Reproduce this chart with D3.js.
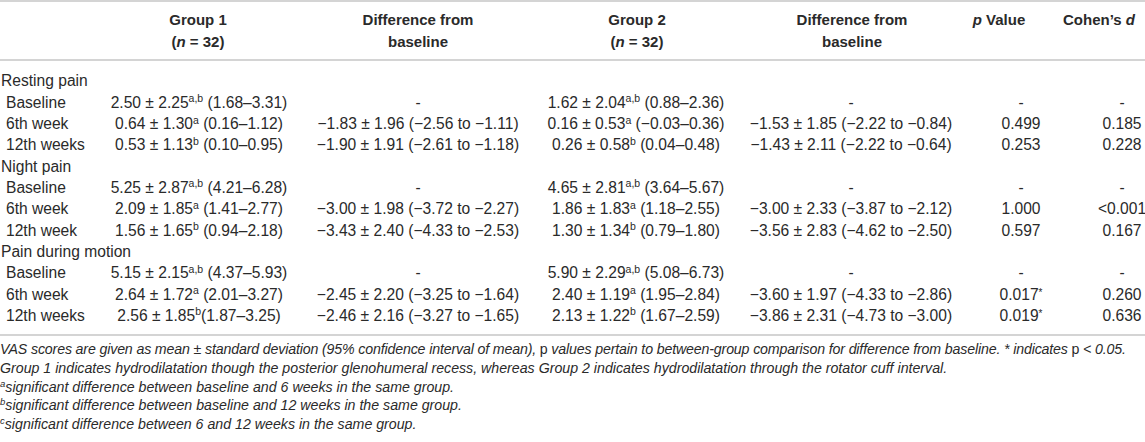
<!DOCTYPE html>
<html>
<head>
<meta charset="utf-8">
<script src="https://cdn.jsdelivr.net/npm/d3@7"></script>
<style>
  html, body { margin: 0; padding: 0; background: #fff; }
  svg text { font-family: "Liberation Sans", Arial, sans-serif; fill: #2a2a2a; }
</style>
</head>
<body>
<div id="chart"></div>
<script>
const outcomes = ["Resting pain", "Night pain", "Pain during motion"];
const timepoints = [
    ["Baseline", "6th week", "12th weeks"],
    ["Baseline", "6th week", "12th week"],
    ["Baseline", "6th week", "12th weeks"]
];

// group 1: mean, sd, superscript, ci
const g1Mean = ["2.50", "0.64", "0.53", "5.25", "2.09", "1.56", "5.15", "2.64", "2.56"];
const g1Sd   = ["2.25", "1.30", "1.13", "2.87", "1.85", "1.65", "2.15", "1.72", "1.85"];
const g1Sup  = ["a,b", "a", "b", "a,b", "a", "b", "a,b", "a", "b"];
const g1Ci   = ["(1.68–3.31)", "(0.16–1.12)", "(0.10–0.95)", "(4.21–6.28)", "(1.41–2.77)", "(0.94–2.18)", "(4.37–5.93)", "(2.01–3.27)", "(1.87–3.25)"];

const diff1 = ["-", "−1.83 ± 1.96 (−2.56 to −1.11)", "−1.90 ± 1.91 (−2.61 to −1.18)",
               "-", "−3.00 ± 1.98 (−3.72 to −2.27)", "−3.43 ± 2.40 (−4.33 to −2.53)",
               "-", "−2.45 ± 2.20 (−3.25 to −1.64)", "−2.46 ± 2.16 (−3.27 to −1.65)"];

const g2Mean = ["1.62", "0.16", "0.26", "4.65", "1.86", "1.30", "5.90", "2.40", "2.13"];
const g2Sd   = ["2.04", "0.53", "0.58", "2.81", "1.83", "1.34", "2.29", "1.19", "1.22"];
const g2Sup  = ["a,b", "a", "b", "a,b", "a", "b", "a,b", "a", "b"];
const g2Ci   = ["(0.88–2.36)", "(−0.03–0.36)", "(0.04–0.48)", "(3.64–5.67)", "(1.18–2.55)", "(0.79–1.80)", "(5.08–6.73)", "(1.95–2.84)", "(1.67–2.59)"];

const diff2 = ["-", "−1.53 ± 1.85 (−2.22 to −0.84)", "−1.43 ± 2.11 (−2.22 to −0.64)",
               "-", "−3.00 ± 2.33 (−3.87 to −2.12)", "−3.56 ± 2.83 (−4.62 to −2.50)",
               "-", "−3.60 ± 1.97 (−4.33 to −2.86)", "−3.86 ± 2.31 (−4.73 to −3.00)"];

const pValues = ["-", "0.499", "0.253", "-", "1.000", "0.597", "-", "0.017*", "0.019*"];
const cohensD = ["-", "0.185", "0.228", "-", "<0.001", "0.167", "-", "0.260", "0.636"];

const headers = [
    { col: "g1", lines: ["Group 1", "(n = 32)"] },
    { col: "d1", lines: ["Difference from", "baseline"] },
    { col: "g2", lines: ["Group 2", "(n = 32)"] },
    { col: "d2", lines: ["Difference from", "baseline"] },
    { col: "p", lines: ["p Value"] },
    { col: "d", lines: ["Cohen’s d"] }
];

const notes = [
    "VAS scores are given as mean ± standard deviation (95% confidence interval of mean), p values pertain to between-group comparison for difference from baseline. * indicates p < 0.05.",
    "Group 1 indicates hydrodilatation though the posterior glenohumeral recess, whereas Group 2 indicates hydrodilatation through the rotator cuff interval.",
    "significant difference between baseline and 6 weeks in the same group.",
    "significant difference between baseline and 12 weeks in the same group.",
    "significant difference between 6 and 12 weeks in the same group."
];
const noteMarks = ["", "", "a", "b", "c"];

const width = 1145, height = 442;

const svg = d3.select('#chart').append('svg')
    .attr('width', width)
    .attr('height', height);

// row layout: one row per outcome title plus one per timepoint
const rows = [];
let k = 0;
outcomes.forEach((o, i) => {
    rows.push({ id: 'h' + i, type: 'group', label: o });
    timepoints[i].forEach(t => {
        rows.push({ id: 'r' + k, type: 'data', label: t, idx: k });
        k++;
    });
});

const y = d3.scalePoint()
    .domain(rows.map(r => r.id))
    .range([81, 315.5]);

// column centers
const xHead = d3.scaleOrdinal()
    .domain(["g1", "d1", "g2", "d2", "p", "d"])
    .range([198, 418, 637, 852, 999, 1099]);
const xCell = d3.scaleOrdinal()
    .domain(["g1", "d1", "g2", "d2", "p", "d"])
    .range([199, 418, 636, 851, 1021, 1122]);

const fs = 15.6;
const off = 5.4; // baseline offset from row center

// rules
const ruleColor = '#d4d4d4';
[1, 60, 335].forEach(ry => {
    svg.append('line')
        .attr('x1', 0).attr('x2', width)
        .attr('y1', ry).attr('y2', ry)
        .attr('stroke', ruleColor)
        .attr('stroke-width', 2);
});

// header
const hy = [20, 42];
headers.forEach(h => {
    h.lines.forEach((line, li) => {
        const t = svg.append('text')
            .attr('x', xHead(h.col))
            .attr('y', hy[li] + off)
            .attr('text-anchor', 'middle')
            .style('font-size', '15px')
            .style('font-weight', 'bold');
        if (line === "(n = 32)") {
            t.append('tspan').text('(');
            t.append('tspan').style('font-style', 'italic').text('n');
            t.append('tspan').text(' = 32)');
        } else if (line === "p Value") {
            t.append('tspan').style('font-style', 'italic').text('p');
            t.append('tspan').text(' Value');
        } else if (line === "Cohen’s d") {
            t.append('tspan').text('Cohen’s ');
            t.append('tspan').style('font-style', 'italic').text('d');
        } else {
            t.text(line);
        }
    });
});

// row labels
svg.append('g')
    .selectAll('text')
    .data(rows)
    .enter().append('text')
    .attr('x', d => d.type === 'group' ? 1 : 6)
    .attr('y', d => y(d.id) + off)
    .style('font-size', fs + 'px')
    .text(d => d.label);

const dataRows = rows.filter(r => r.type === 'data');

function groupCell(sel, mean, sd, sup, ci) {
    sel.each(function(d) {
        const t = d3.select(this);
        const i = d.idx;
        t.append('tspan').text(mean[i] + ' ± ' + sd[i]);
        t.append('tspan').attr('dy', -5.5).style('font-size', '10.5px').text(sup[i]);
        // the last motion row of group 1 has no space before the interval
        const gap = (mean === g1Mean && i === 8) ? '' : ' ';
        t.append('tspan').attr('dy', 5.5).text(gap + ci[i]);
    });
}

svg.append('g')
    .selectAll('text')
    .data(dataRows)
    .enter().append('text')
    .attr('x', xCell('g1'))
    .attr('y', d => y(d.id) + off)
    .attr('text-anchor', 'middle')
    .style('font-size', fs + 'px')
    .call(groupCell, g1Mean, g1Sd, g1Sup, g1Ci);

svg.append('g')
    .selectAll('text')
    .data(dataRows)
    .enter().append('text')
    .attr('x', xCell('g2'))
    .attr('y', d => y(d.id) + off)
    .attr('text-anchor', 'middle')
    .style('font-size', fs + 'px')
    .call(groupCell, g2Mean, g2Sd, g2Sup, g2Ci);

[["d1", diff1], ["d2", diff2], ["d", cohensD]].forEach(([col, arr]) => {
    svg.append('g')
        .selectAll('text')
        .data(dataRows)
        .enter().append('text')
        .attr('x', xCell(col))
        .attr('y', d => y(d.id) + off)
        .attr('text-anchor', 'middle')
        .style('font-size', fs + 'px')
        .text(d => arr[d.idx]);
});

// p values, asterisk drawn small and raised
svg.append('g')
    .selectAll('text')
    .data(dataRows)
    .enter().append('text')
    .attr('x', xCell('p'))
    .attr('y', d => y(d.id) + off)
    .attr('text-anchor', 'middle')
    .style('font-size', fs + 'px')
    .each(function(d) {
        const v = pValues[d.idx];
        const t = d3.select(this);
        if (v.endsWith('*')) {
            t.append('tspan').text(v.slice(0, -1));
            t.append('tspan').attr('dy', -4).style('font-size', '10px').text('*');
        } else {
            t.text(v);
        }
    });

// footnotes
const noteY = d3.scalePoint()
    .domain(d3.range(notes.length))
    .range([349, 424]);

const nfs = 14.2;
notes.forEach((n, i) => {
    const t = svg.append('text')
        .attr('x', 0)
        .attr('y', noteY(i) + 5)
        .style('font-size', nfs + 'px')
        .style('font-style', 'italic');
    if (noteMarks[i]) {
        t.append('tspan').attr('dy', -5).style('font-size', '9.5px').text(noteMarks[i]);
        t.append('tspan').attr('dy', 5).text(n);
    } else if (i === 0) {
        // "p" is set upright in the original
        const parts = n.split(/(\bp values|p < 0\.05\.)/);
        parts.forEach(part => {
            if (part === 'p values') {
                t.append('tspan').style('font-style', 'normal').text('p');
                t.append('tspan').text(' values');
            } else if (part === 'p < 0.05.') {
                t.append('tspan').style('font-style', 'normal').text('p');
                t.append('tspan').text(' < 0.05.');
            } else {
                t.append('tspan').text(part);
            }
        });
        t.attr('textLength', 1126).attr('lengthAdjust', 'spacing');
    } else {
        t.text(n);
    }
});
</script>
</body>
</html>
